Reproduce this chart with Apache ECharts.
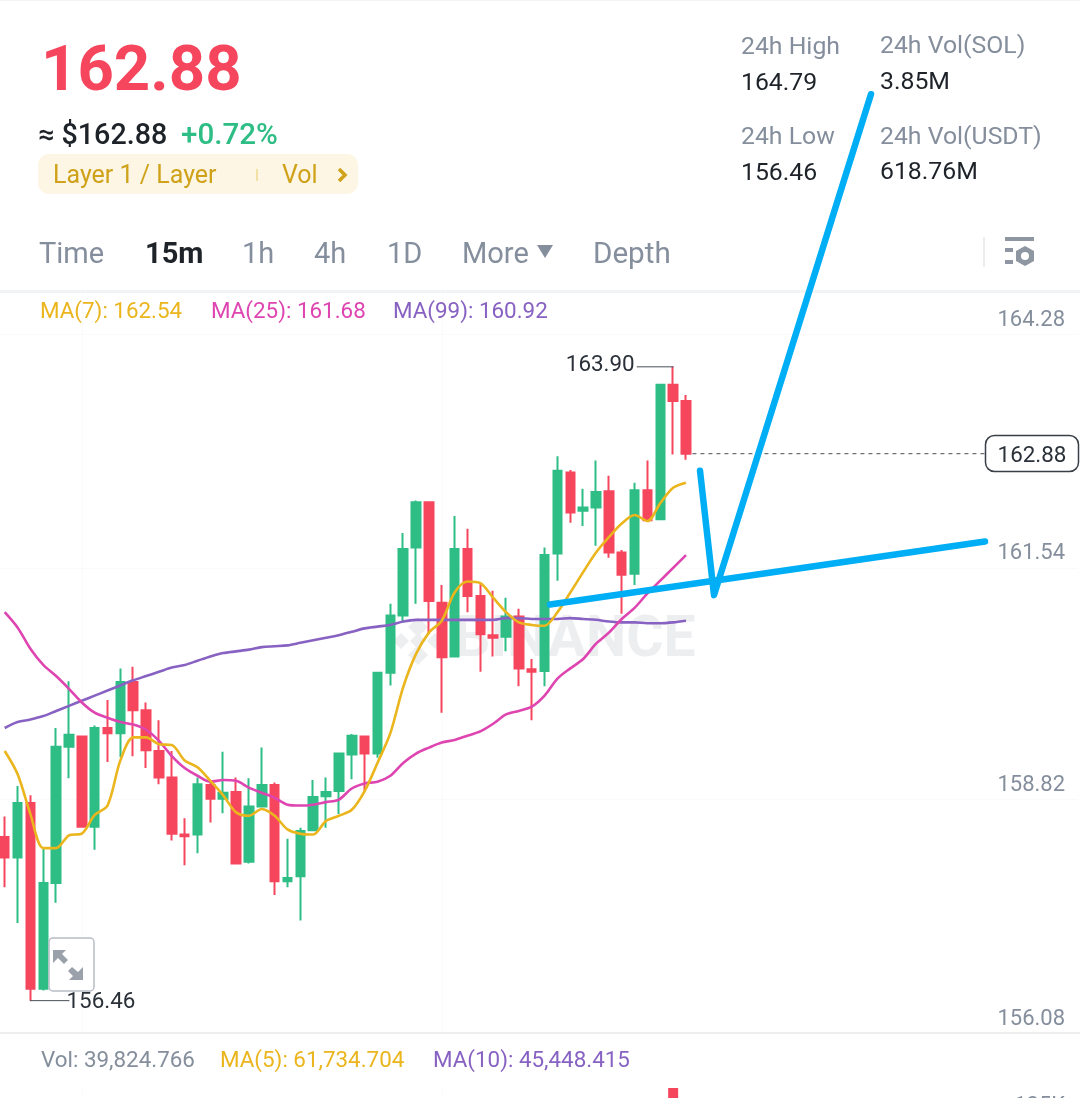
<!DOCTYPE html>
<html><head><meta charset="utf-8">
<style>html,body{margin:0;padding:0;background:#fff}#c{width:1080px;height:1098px}</style>
<script src="https://cdn.jsdelivr.net/npm/echarts@6/dist/echarts.min.js"></script>
</head><body><div id="c"></div>
<script>
const opens =[158.38,158.14,158.78,156.60,157.84,159.44,159.56,158.50,159.66,159.60,160.20,159.87,159.39,159.08,158.41,158.41,158.99,158.83,158.91,158.09,158.74,158.99,157.86,157.92,158.46,158.86,158.92,159.35,159.56,159.36,160.31,160.98,161.78,162.31,161.13,160.50,161.76,161.21,160.75,160.73,160.97,160.35,160.33,161.71,162.66,162.21,162.25,162.44,161.72,161.47,162.45,162.11,163.69,163.50];
const closes=[158.14,158.78,156.60,157.84,159.44,159.58,158.50,159.66,159.60,160.20,159.87,159.40,159.08,158.42,158.39,159.00,158.83,158.90,158.07,158.74,158.99,157.86,157.90,158.45,158.85,158.91,159.36,159.57,159.36,160.31,160.98,161.76,162.31,161.15,160.49,161.76,161.21,160.76,160.72,160.97,160.36,160.32,161.69,162.68,162.19,162.25,162.43,161.72,161.46,162.45,162.10,163.69,163.50,162.88];
const lows  =[157.79,157.37,156.46,156.58,157.61,159.07,158.50,158.23,159.26,159.32,159.33,159.19,159.00,158.34,158.05,158.19,158.55,158.66,158.07,158.07,158.73,157.70,157.79,157.40,158.45,158.49,158.65,159.06,158.92,159.31,160.16,160.90,161.12,160.76,159.84,160.50,161.02,160.32,160.50,160.56,160.15,159.75,160.15,161.39,162.07,162.03,161.80,161.66,161.00,161.34,162.10,162.11,162.87,162.81];
const highs =[158.62,158.98,158.87,158.26,159.66,160.21,159.56,159.69,159.99,160.36,160.38,159.96,159.75,159.39,158.60,159.08,159.02,159.38,159.08,159.07,159.43,159.02,158.36,158.49,159.05,159.08,159.37,159.59,159.56,160.32,161.12,161.95,162.33,162.32,161.34,162.15,162.00,161.35,161.27,161.19,161.06,160.47,161.78,162.85,162.69,162.47,162.80,162.62,161.75,162.54,162.80,163.70,163.90,163.57];
const ma7 =[159.39,159.12,158.65,158.25,158.25,158.40,158.42,158.64,158.75,159.28,159.55,159.55,159.47,159.46,159.28,159.20,159.04,158.87,158.67,158.63,158.71,158.63,158.47,158.42,158.41,158.57,158.63,158.70,158.92,159.25,159.60,160.14,160.53,160.78,160.92,161.25,161.38,161.36,161.19,161.02,160.90,160.87,160.86,161.02,161.25,161.49,161.72,161.90,162.06,162.16,162.09,162.30,162.48,162.54];
const ma25=[161.02,160.84,160.59,160.40,160.27,160.12,159.96,159.84,159.78,159.73,159.70,159.64,159.51,159.33,159.19,159.10,159.03,159.05,159.04,158.96,158.90,158.84,158.76,158.75,158.76,158.79,158.82,158.95,159.01,159.03,159.10,159.25,159.36,159.43,159.49,159.52,159.57,159.62,159.71,159.82,159.86,159.91,160.04,160.24,160.36,160.47,160.65,160.78,160.94,161.07,161.24,161.39,161.54,161.69];
const ma99=[159.66,159.73,159.76,159.80,159.86,159.92,159.98,160.04,160.10,160.16,160.22,160.27,160.32,160.37,160.40,160.45,160.50,160.54,160.56,160.58,160.61,160.62,160.63,160.66,160.69,160.72,160.75,160.79,160.83,160.85,160.87,160.91,160.93,160.93,160.93,160.93,160.93,160.93,160.93,160.95,160.95,160.94,160.94,160.94,160.95,160.94,160.93,160.91,160.90,160.90,160.89,160.89,160.90,160.92];
const priceTicks=[156.08,158.82,161.54,164.28];
const timeTicks=[6,34];
const volumeBarIndex=52, volumeBarValue=184000, volumeTicks=[125000];
const drawnLevel=[[42.42,161.11],[76.26,161.85]];
const drawnPath=[[54.09,162.68],[55.18,161.22],[67.39,167.10]];
const highMark=[[52,163.90],[49.2,163.90]];
const lowMark=[[2,156.46],[5,156.46]];
const lastMark=[[53.5,162.88],[76.25,162.88]];

const BANDS=84;
const categories=Array.from({length:BANDS},(_,i)=>String(i));
const candles=opens.map((o,i)=>[o,closes[i],lows[i],highs[i]]);
const volumes=categories.map((_,i)=>i===volumeBarIndex?volumeBarValue:null);
const UP='#2EBD85',DOWN='#F6465D',BLUE='#00AEF5',GRAY='#848E9C',DARK='#1E2329',YEL='#EBB51D',MAG='#DE45B0',PUR='#8862C2';
const FONT='Roboto, "Noto Sans", sans-serif';
const T=(text,x,y,size,fill,extra)=>({type:'text',z:20,style:{text,x,y,fill,font:`${(extra&&extra.weight)||400} ${size}px ${FONT}`,textVerticalAlign:'middle',textAlign:(extra&&extra.align)||'left'}});
const R=(x,y,w,h,fill,r,z)=>({type:'rect',z:z===undefined?18:z,shape:{x,y,width:w,height:h,r:r||0},style:{fill}});
const P=(pts,fill,z)=>({type:'polygon',z:z===undefined?21:z,shape:{points:pts},style:{fill}});
const WM='#EDEEF0';
const gfx=[
 R(0,0,1080,1,'#F3F3F4',0,1),
 R(0,290,1080,3,'#F2F3F4',0,1),
 R(0,1032,1080,2,'#EDEEF0',0,1),
 T('162.88',41,74.5,63.5,DOWN,{weight:700}),
 T('≈ $162.88',38,137,28.7,DARK,{weight:500}),
 T('+0.72%',181,137,29.6,UP,{weight:500}),
 R(38,154,320,40,'#FDF6E4',11),
 T('Layer 1 / Layer',53,177,25,'#CFA21A'),
 R(256,169,2,12,'#F2E0A5'),
 T('Vol',282,177,25,'#CFA21A'),
 {type:'polyline',z:20,shape:{points:[[339,169],[345,175],[339,181]]},style:{stroke:'#CFA21A',lineWidth:3.5,fill:null}},
 T('Time',39,256,29,GRAY),
 T('15m',145,256,29,DARK,{weight:700}),
 T('1h',242,256,29,GRAY),
 T('4h',314,256,29,GRAY),
 T('1D',387,256,29,GRAY),
 T('More',462,256,29,GRAY),
 P([[537,245],[553,245],[545,258]],GRAY),
 T('Depth',593,256,29.6,GRAY),
 R(983,237,2,30,'#EAECEF'),
 R(1005,237,29,4,'#8E96A2'),
 R(1005,248,8,4,'#8E96A2'),
 R(1005,260,8,4,'#8E96A2'),
 P([[1025,246],[1034,251],[1034,261],[1025,266],[1016,261],[1016,251]],'#8E96A2'),
 {type:'circle',z:22,shape:{cx:1025,cy:256,r:4},style:{fill:'#fff'}},
 T('24h High',741,47.5,24.8,GRAY),
 T('164.79',741,83.5,24.8,DARK),
 T('24h Vol(SOL)',880,46.5,24.8,GRAY),
 T('3.85M',880,82.5,24.8,DARK),
 T('24h Low',741,137.5,24.8,GRAY),
 T('156.46',741,173.5,24.8,DARK),
 T('24h Vol(USDT)',880,137.5,24.8,GRAY),
 T('618.76M',880,172.5,24.8,DARK),
 T('MA(7): 162.54',40,312,22.4,YEL),
 T('MA(25): 161.68',211,312,22.4,MAG),
 T('MA(99): 160.92',393,312,22.4,PUR),
 T('Vol: 39,824.766',41,1061,22.4,GRAY),
 T('MA(5): 61,734.704',220,1061,22.4,YEL),
 T('MA(10): 45,448.415',433,1061,22.4,PUR),
 {type:'text',z:0,style:{text:'BINANCE',x:454,y:642,fill:WM,font:`700 57px ${FONT}`,textVerticalAlign:'middle',textAlign:'left'}},
 P([[418,617],[428,627],[418,637],[408,627]],WM,0),
 P([[418,633],[426,641],[418,649],[410,641]],WM,0),
 P([[401,633],[409,641],[401,649],[393,641]],WM,0),
 P([[435,633],[443,641],[435,649],[427,641]],WM,0),
 P([[418,645],[428,655],[418,665],[408,655]],WM,0),
 {type:'rect',z:18,shape:{x:49,y:938,width:45,height:53,r:4},style:{fill:'rgba(255,255,255,0.92)',stroke:'#B7BDC6',lineWidth:1.5}},
 P([[53,950],[66,950],[62,954],[68,960],[64,964],[58,958],[53,963]],'#9AA1AA'),
 P([[83,980],[69,980],[73,976],[68,971],[72,967],[78,972],[83,967]],'#9AA1AA'),
 {type:'rect',z:30,shape:{x:985.5,y:435.5,width:93,height:36,r:9},style:{fill:'#fff',stroke:'#3A3F47',lineWidth:1.5}},
 {type:'text',z:31,style:{text:'162.88',x:1032,y:456,fill:'#2B3139',font:`400 22.4px ${FONT}`,textAlign:'center',textVerticalAlign:'middle'}},
];
const hiddenAxis={axisLine:{show:false},axisTick:{show:false},axisLabel:{show:false}};
const FAINT='#FAFAFA';
const timeAxis=(gridIndex)=>({type:'value',gridIndex,min:-0.5,max:BANDS-0.5,axisLine:{show:false},
  axisTick:{show:false,customValues:timeTicks},axisLabel:{show:false,customValues:timeTicks},splitLine:{show:true,lineStyle:{color:FAINT,width:1}}});
const markLine=(data,o)=>Object.assign({type:'line',xAxisIndex:1,yAxisIndex:0,data,symbol:'none',clip:false,silent:true},o);
const endLabel=(text,position,distance,offset)=>({show:true,position,distance,offset,formatter:text,fontFamily:FONT,fontSize:22.4,color:'#2B3139'});
const leader=(pts,text,position,distance,offset)=>markLine(pts,{z:5,symbol:'circle',symbolSize:1,showSymbol:true,showAllSymbol:true,
  itemStyle:{color:'#4A4F57'},lineStyle:{color:'#4A4F57',width:1},
  data:[pts[0],{value:pts[1],label:endLabel(text,position,distance,offset)}]});
const axisText={inside:true,margin:13,color:GRAY,fontFamily:FONT,fontSize:22,verticalAlign:'bottom',lineHeight:28};
const option={
 animation:false,backgroundColor:'#fff',
 grid:[{left:-1.73,top:291,width:1079.8,height:742,outerBoundsMode:'none'},{left:-1.73,top:1088,width:1079.8,height:100,outerBoundsMode:'none'}],
 xAxis:[
  {type:'category',gridIndex:0,data:categories,...hiddenAxis,splitLine:{show:false}},
  timeAxis(0),
  {type:'category',gridIndex:1,data:categories,...hiddenAxis,splitLine:{show:false}},
  timeAxis(1),
 ],
 yAxis:[
  {type:'value',gridIndex:0,position:'right',min:156.08,max:164.79,axisLine:{show:false},
   axisTick:{show:false,customValues:priceTicks},
   axisLabel:{...axisText,customValues:priceTicks,formatter:v=>v.toFixed(2)},
   splitLine:{show:true,lineStyle:{color:FAINT,width:1}}},
  {type:'value',gridIndex:1,position:'right',min:0,max:volumeBarValue,axisLine:{show:false},
   axisTick:{show:false,customValues:volumeTicks},
   axisLabel:{...axisText,customValues:volumeTicks,formatter:v=>(v/1000)+'K'},
   splitLine:{show:false}},
 ],
 graphic:gfx,
 series:[
  {type:'candlestick',xAxisIndex:0,yAxisIndex:0,data:candles,barWidth:9,z:3,itemStyle:{color:UP,color0:DOWN,borderColor:UP,borderColor0:DOWN,borderWidth:2}},
  {type:'line',xAxisIndex:0,yAxisIndex:0,data:ma99,symbol:'none',smooth:0.3,z:4,lineStyle:{color:PUR,width:2.6}},
  {type:'line',xAxisIndex:0,yAxisIndex:0,data:ma25,symbol:'none',smooth:0.3,z:4,lineStyle:{color:MAG,width:2.6}},
  {type:'line',xAxisIndex:0,yAxisIndex:0,data:ma7,symbol:'none',smooth:0.3,z:4,lineStyle:{color:YEL,width:2.6}},
  {type:'bar',xAxisIndex:2,yAxisIndex:1,data:volumes,barWidth:10,itemStyle:{color:DOWN}},
  markLine(drawnLevel,{z:8,lineStyle:{color:BLUE,width:6.5,cap:'round'}}),
  markLine(drawnPath,{z:8,lineStyle:{color:BLUE,width:6.5,cap:'round',join:'round'}}),
  leader(highMark,'163.90','left',2,[0,-1]),
  leader(lowMark,'156.46','right',0,[-3,2]),
  markLine(lastMark,{z:5,lineStyle:{color:'#4A4F57',width:1,type:[4,4]}}),
 ]
};
const chart=echarts.init(document.getElementById('c'),null,{renderer:'canvas',width:1080,height:1098});
chart.setOption(option);
</script></body></html>
